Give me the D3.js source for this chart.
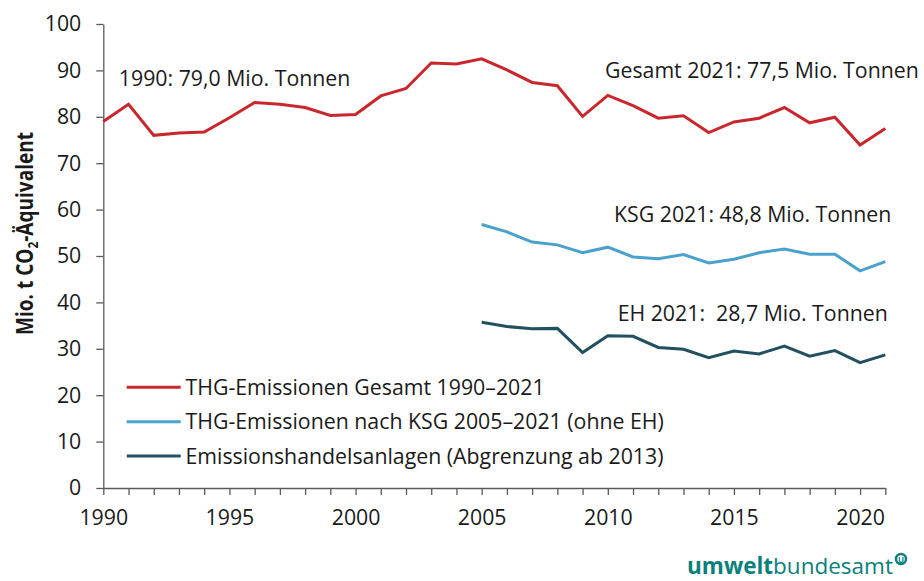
<!DOCTYPE html>
<html><head><meta charset="utf-8">
<script src="https://cdn.jsdelivr.net/npm/d3@7"></script>
<style>
html,body{margin:0;padding:0;background:#fff;}
svg{display:block;font-family:"Open Sans","Noto Sans",sans-serif;}
</style></head>
<body><svg id="chart" width="924" height="581"></svg>
<script>
const years = d3.range(1990, 2022);
const gesamt = [79.0,82.7,76.0,76.5,76.7,79.8,83.1,82.7,82.0,80.3,80.5,84.5,86.1,91.6,91.4,92.5,90.1,87.4,86.7,80.1,84.6,82.4,79.7,80.2,76.6,78.9,79.7,82.0,78.7,79.9,73.9,77.5];
const ksgYears = d3.range(2005, 2022);
const ksg = [56.8,55.2,53.0,52.4,50.7,51.9,49.8,49.4,50.3,48.5,49.3,50.7,51.5,50.4,50.4,46.8,48.8];
const eh = [35.7,34.8,34.3,34.4,29.2,32.8,32.7,30.3,29.9,28.1,29.5,28.9,30.6,28.4,29.6,27.0,28.7];
const yTicks = [0,10,20,30,40,50,60,70,80,90,100];
const xLabelYears = [1990,1995,2000,2005,2010,2015,2020];
const seriesNames = ["THG-Emissionen Gesamt 1990–2021","THG-Emissionen nach KSG 2005–2021 (ohne EH)","Emissionshandelsanlagen (Abgrenzung ab 2013)"];
const seriesColors = ["#c8282d","#4aa2cc","#22505f"];
const annotations = [
  {text:"1990: 79,0 Mio. Tonnen", year:1990, value:79.0},
  {text:"Gesamt 2021: 77,5 Mio. Tonnen", year:2021, value:77.5},
  {text:"KSG 2021: 48,8 Mio. Tonnen", year:2021, value:48.8},
  {text:"EH 2021:  28,7 Mio. Tonnen", year:2021, value:28.7}
];

const svg = d3.select("#chart");
const x = d3.scaleLinear().domain([1990,2021]).range([103.3,885.3]);
const y = d3.scaleLinear().domain([0,100]).range([488,24]);
const axisColor = "#5a5a5a", textColor = "#1a1a1a";
const fs = 21.3;

// y axis
const ya = svg.append("g").attr("transform","translate(103.3,0)")
  .call(d3.axisLeft(y).tickValues(yTicks).tickSize(7).tickSizeOuter(0).tickPadding(15));
ya.select(".domain").attr("stroke",axisColor).attr("stroke-width",1.3);
ya.selectAll(".tick line").attr("stroke",axisColor).attr("stroke-width",1.3);
ya.selectAll(".tick text").attr("fill",textColor).attr("font-size",fs).attr("font-family","Open Sans");

// x axis
const xa = svg.append("g").attr("transform","translate(0,488)")
  .call(d3.axisBottom(x).tickValues(years).tickSize(7).tickSizeOuter(0).tickPadding(15)
    .tickFormat(d => xLabelYears.includes(d) ? String(d) : ""));
xa.select(".domain").attr("stroke",axisColor).attr("stroke-width",1.3);
xa.selectAll(".tick line").attr("stroke",axisColor).attr("stroke-width",1.3);
xa.selectAll(".tick text").attr("fill",textColor).attr("font-size",fs).attr("font-family","Open Sans");

// y title (condensed bold look)
const ytg = svg.append("g").attr("transform","translate(33,233.5) rotate(-90)");
const yt = ytg.append("text").attr("text-anchor","middle").attr("font-size",24).attr("font-weight","bold").attr("fill",textColor);
yt.append("tspan").text("Mio. t CO");
yt.append("tspan").attr("font-size",15).attr("dy",5).text("2");
yt.append("tspan").attr("dy",-5).text("-Äquivalent");
const tl = yt.node().getComputedTextLength();
yt.attr("transform", `scale(${203/tl},1)`);

// lines
const line = d3.line().x(d => x(d[0])).y(d => y(d[1]));
const data = [
  d3.zip(years, gesamt),
  d3.zip(ksgYears, ksg),
  d3.zip(ksgYears, eh)
];
data.forEach((d,i) => {
  svg.append("path").datum(d).attr("d",line).attr("fill","none")
    .attr("stroke",seriesColors[i]).attr("stroke-width",3).attr("stroke-linejoin","miter");
});

// annotations
const annPos = [
  {dx:15.5, dy:-35.4, anchor:"start"},
  {dx:33.5, dy:-50.4, anchor:"end"},
  {dx:6, dy:-40, anchor:"end"},
  {dx:2.5, dy:-34, anchor:"end"}
];
annotations.forEach((a,i) => {
  svg.append("text").attr("x", x(a.year)+annPos[i].dx).attr("y", y(a.value)+annPos[i].dy)
    .attr("text-anchor", annPos[i].anchor).attr("font-size",fs).attr("fill",textColor)
    .style("white-space","pre").text(a.text);
});

// legend
seriesNames.forEach((n,i) => {
  const ly = 387.3 + i*34.35;
  svg.append("line").attr("x1",126.7).attr("x2",180.7).attr("y1",ly).attr("y2",ly)
    .attr("stroke",seriesColors[i]).attr("stroke-width",3);
  svg.append("text").attr("x",185.5).attr("y",ly+7.7).attr("font-size",fs).attr("fill",textColor).text(n);
});

// logo
const logo = svg.append("text").attr("x",687).attr("y",574).attr("font-size",22.5).attr("fill","#0a807b");
logo.append("tspan").attr("font-weight","bold").text("umwelt");
logo.append("tspan").text("bundesamt");
svg.append("circle").attr("cx",901).attr("cy",559).attr("r",5).attr("fill","none").attr("stroke","#0a807b").attr("stroke-width",2.5);
svg.append("text").attr("x",901).attr("y",562.5).attr("text-anchor","middle").attr("font-size",8).attr("font-weight","bold").attr("fill","#0a807b").text("U");
</script></body></html>
